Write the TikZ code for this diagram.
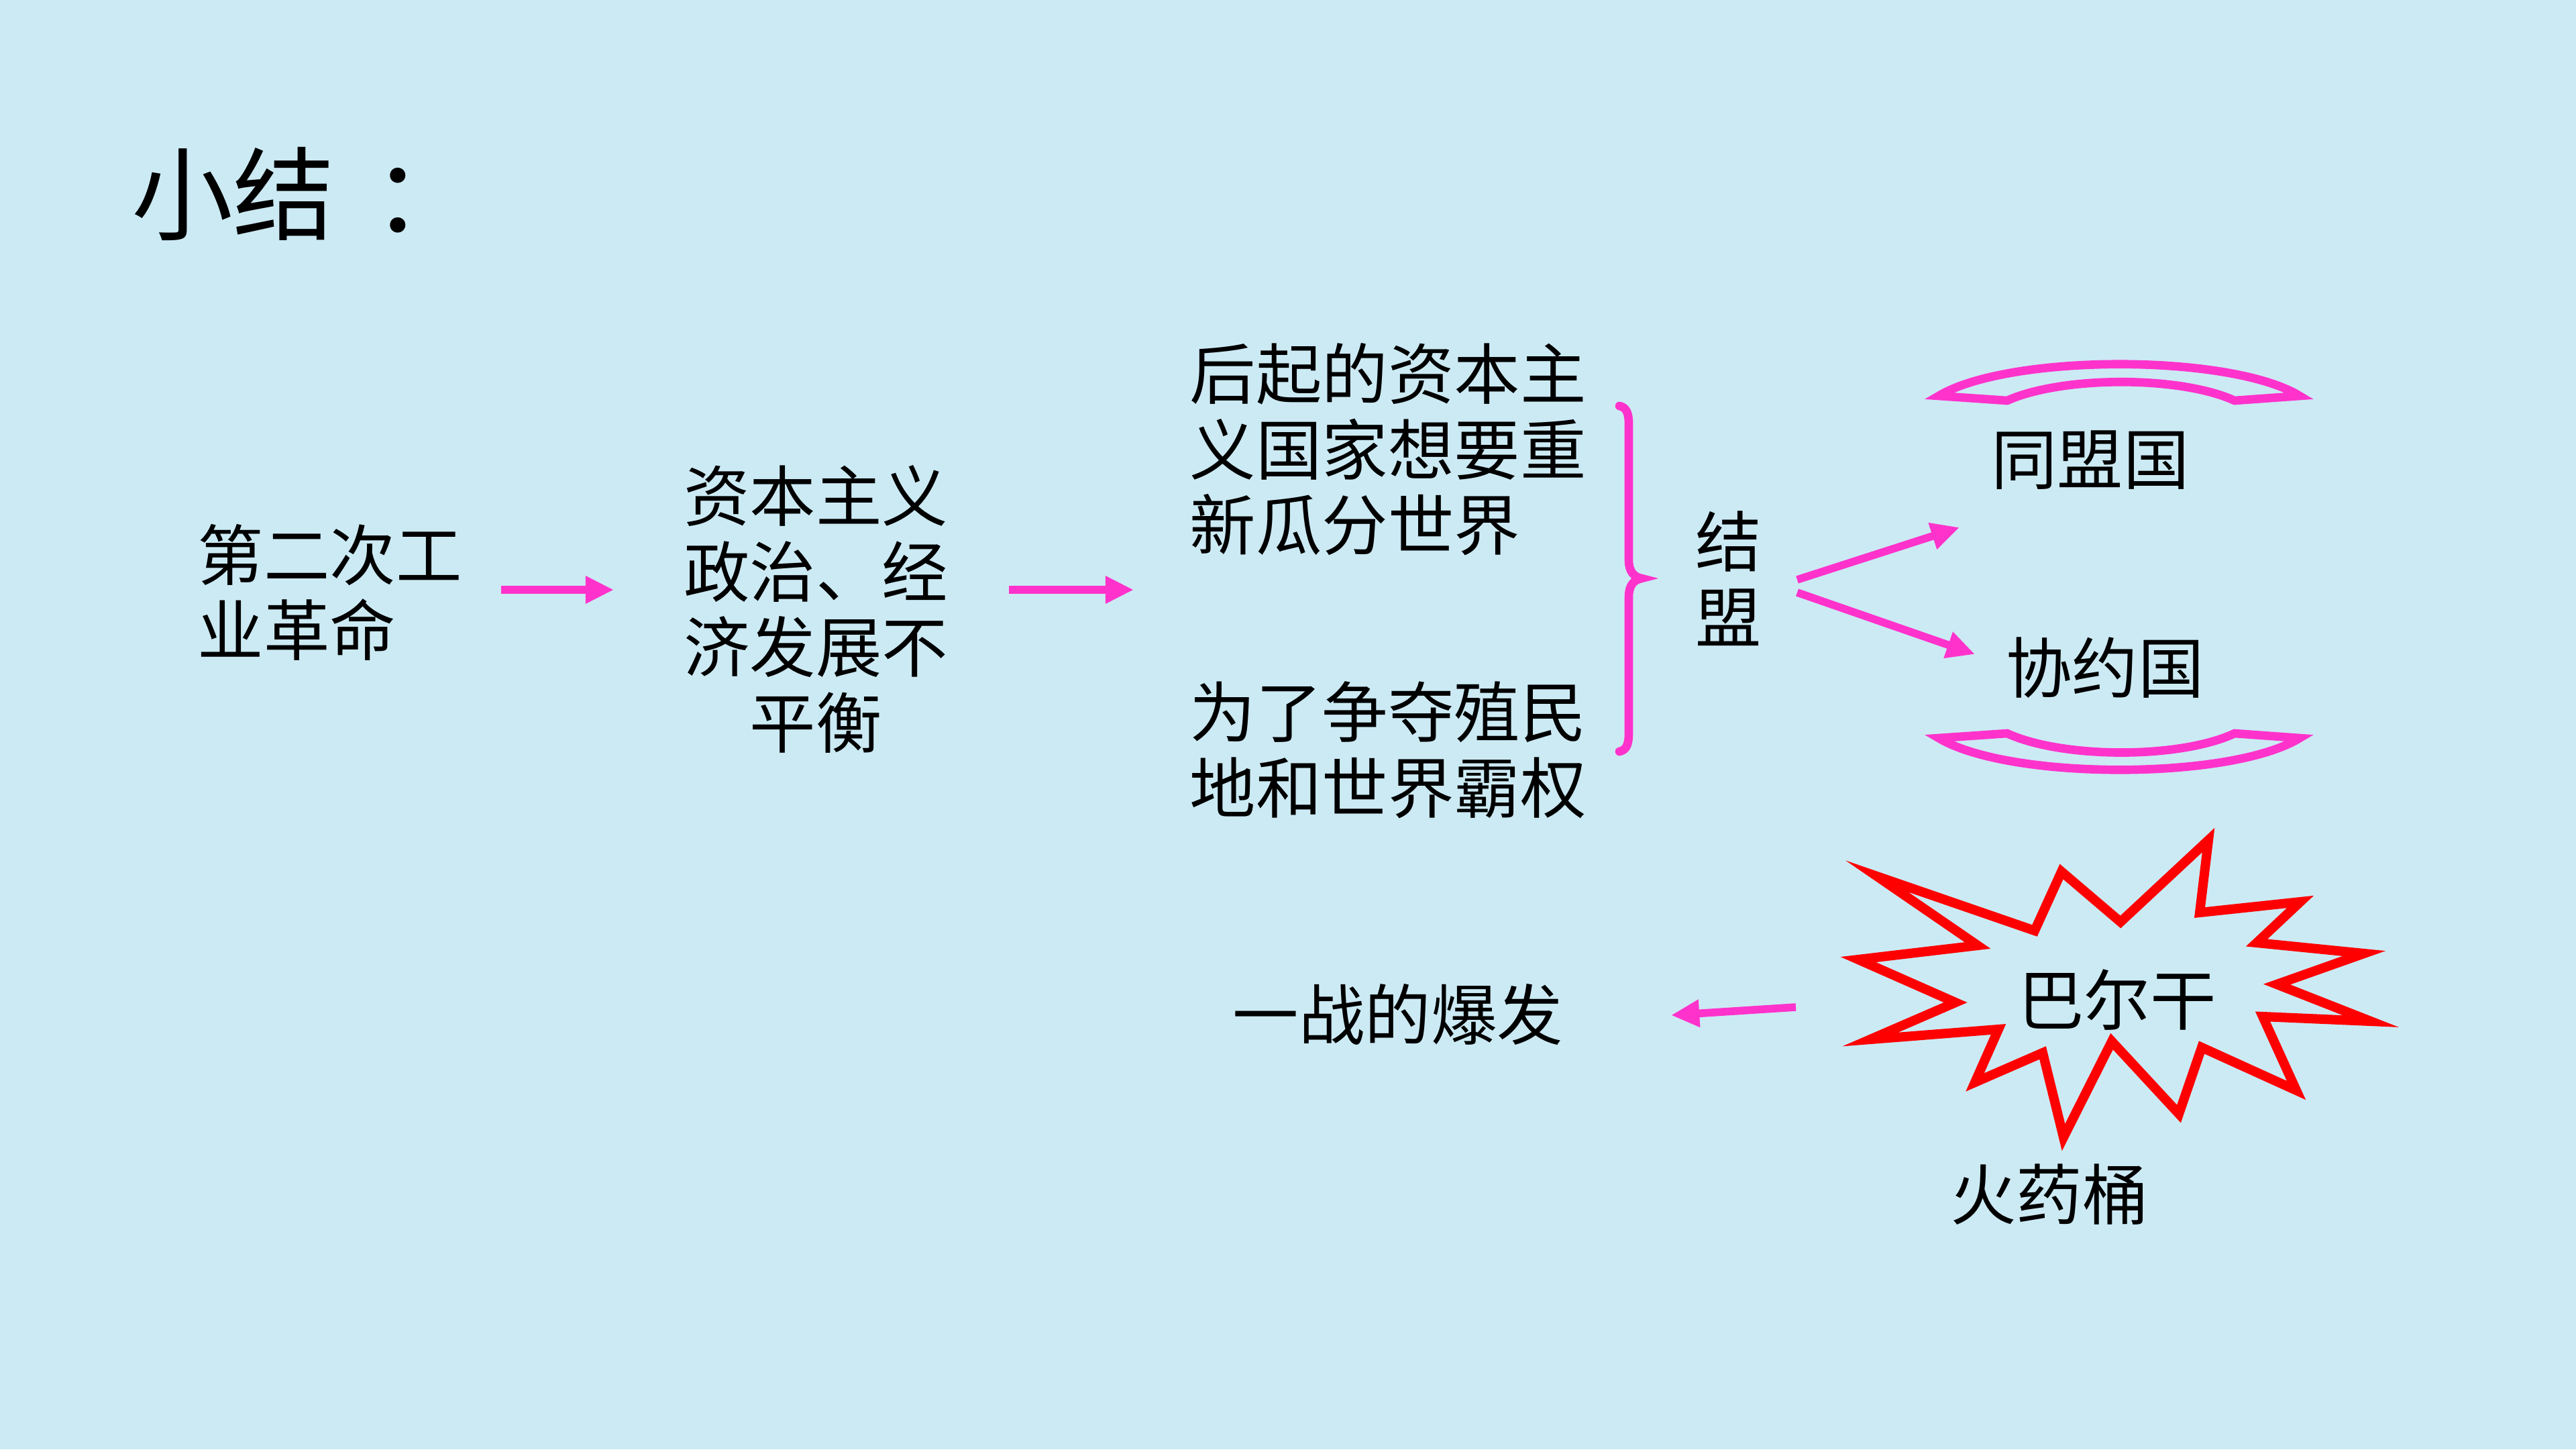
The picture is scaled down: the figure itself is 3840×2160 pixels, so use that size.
\documentclass[tikz,border=0pt]{standalone}
\usepackage{fontspec}
\newfontfamily\cjk{Noto Sans CJK SC}
\usetikzlibrary{arrows.meta}
\definecolor{bg}{RGB}{204,234,244}
\definecolor{pk}{RGB}{255,51,204}
\definecolor{rd}{RGB}{255,0,0}
\begin{document}
\begin{tikzpicture}[x=0.01cm,y=-0.01cm,
  txt/.style={font=\cjk\fontsize{28}{32}\selectfont, inner sep=0pt, text=black},
  parrow/.style={draw=pk, line width=3.3pt, -{Triangle[length=12pt,width=11pt]}},
  pkline/.style={draw=pk, line width=3.6pt, line join=miter},
  boom/.style={draw=rd, line width=4pt, line join=miter, miter limit=12}]
\fill[bg] (0,0) rectangle (3840,2160);
\useasboundingbox (0,0) rectangle (3840,2160);

% title
\node[anchor=west, inner sep=0pt, font=\cjk\fontsize{43}{48}\selectfont] (title) at (196,289) {小结\kern16pt：};

% text nodes
\node[txt, anchor=west, align=left] (ind) at (294,883) {第二次工\\业革命};
\node[txt, align=center] (uneven) at (1216,908) {资本主义\\政治、经\\济发展不\\平衡};
\node[txt, anchor=west, align=left] (late) at (1773,670) {后起的资本主\\义国家想要重\\新瓜分世界};
\node[txt, anchor=west, align=left] (colony) at (1773,1118) {为了争夺殖民\\地和世界霸权};
\node[txt, align=center] (ally) at (2577,862) {结\\盟};
\node[txt] (central) at (3116,686) {同盟国};
\node[txt] (entente) at (3138,995) {协约国};
\node[txt] (balkan) at (3156,1490) {巴尔干};
\node[txt] (war) at (2084,1512) {一战的爆发};
\node[txt] (powder) at (3055,1780) {火药桶};

% arrow end points
\coordinate (a1s) at (747,879);
\coordinate (a1e) at (915,879);
\coordinate (a2s) at (1504,879);
\coordinate (a2e) at (1690,879);
\coordinate (a3s) at (2679,864);
\coordinate (a3e) at (2921,786);
\coordinate (a4s) at (2679,883);
\coordinate (a4e) at (2944,975);
\coordinate (a5s) at (2677,1501);
\coordinate (a5e) at (2491,1513);

\draw[parrow] (a1s) -- (a1e);
\draw[parrow] (a2s) -- (a2e);
\draw[parrow] (a3s) -- (a3e);
\draw[parrow] (a4s) -- (a4e);
\draw[parrow] (a5s) -- (a5e);

% brace
\draw[draw=pk, line width=3.6pt, line cap=round]
  (2414,605) .. controls (2424,607) and (2428,615) .. (2428,632)
  -- (2428,835) .. controls (2428,852) and (2436,860) .. (2447,862)
  .. controls (2436,864) and (2428,872) .. (2428,889)
  -- (2428,1093) .. controls (2428,1110) and (2424,1118) .. (2414,1120);

% bracket shapes
\draw[pkline] (2890,590) .. controls (2995,527) and (3325,527) .. (3428,590)
  -- (3331,597) .. controls (3250,560) and (3075,560) .. (2992,597) -- cycle;
\draw[pkline] (2890,1100) .. controls (2995,1163) and (3325,1163) .. (3428,1100)
  -- (3331,1093) .. controls (3250,1131) and (3075,1131) .. (2992,1093) -- cycle;

% explosion
\draw[boom] (2798,1306) -- (3033,1387) -- (3073,1299) -- (3161,1374) -- (3292,1252)
  -- (3279,1360) -- (3429,1344) -- (3364,1405) -- (3524,1421) -- (3394,1467)
  -- (3534,1522) -- (3373,1515) -- (3423,1625) -- (3282,1561) -- (3248,1660)
  -- (3148,1552) -- (3076,1695) -- (3045,1569) -- (2944,1613) -- (2979,1534)
  -- (2788,1549) -- (2915,1494) -- (2770,1430) -- (2948,1409) -- cycle;
\end{tikzpicture}
\end{document}
